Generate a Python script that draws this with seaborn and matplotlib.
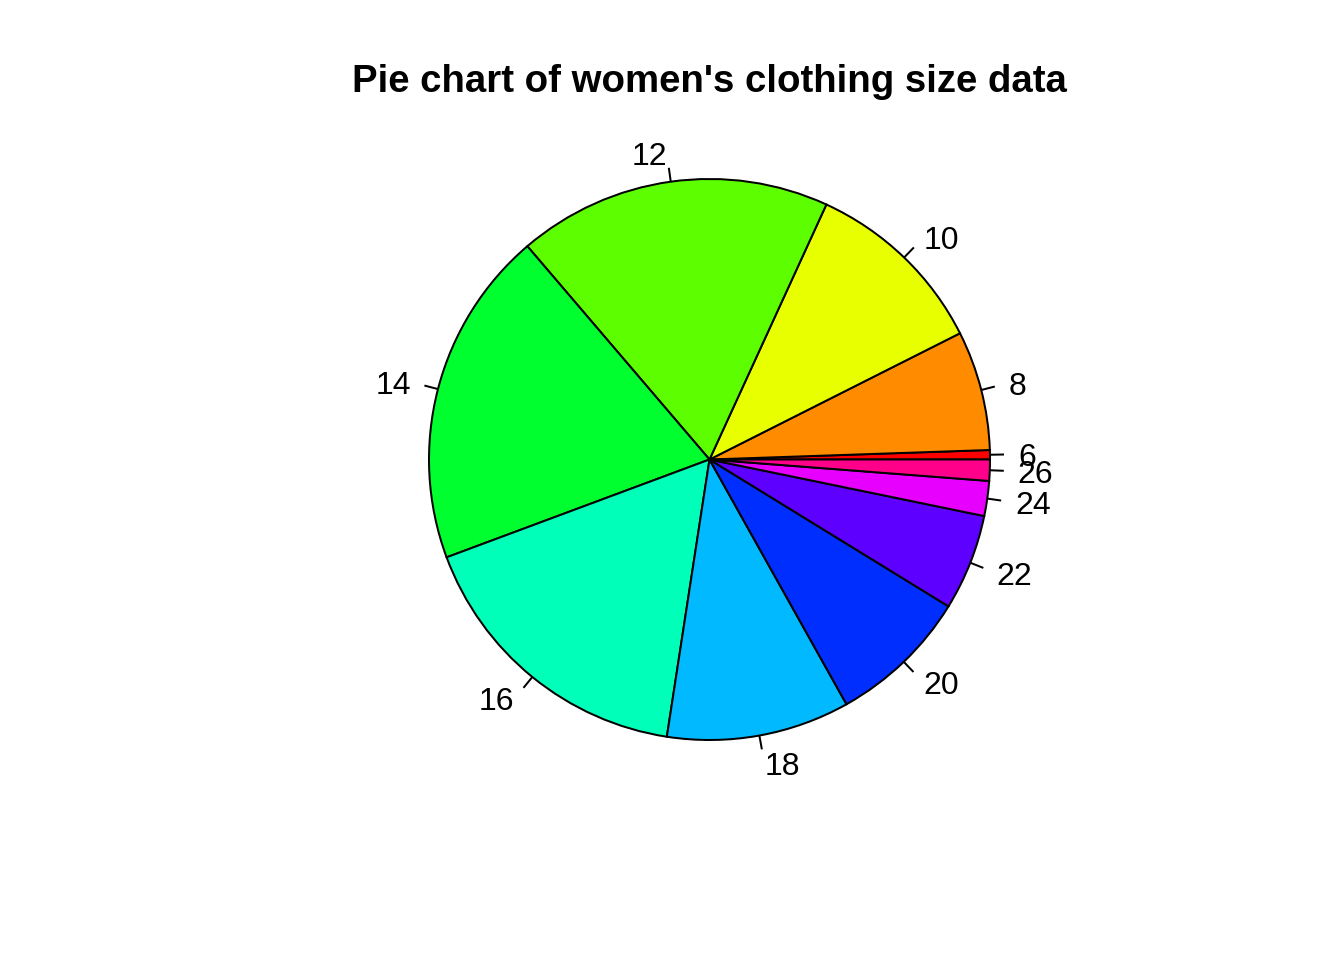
import numpy as np
import matplotlib
matplotlib.use("Agg")
import matplotlib.pyplot as plt
import seaborn as sns

sizes = ["6", "8", "10", "12", "14", "16", "18", "20", "22", "24", "26"]
shares = [0.54, 6.89, 10.73, 18.09, 19.42, 16.90, 10.55, 8.11, 5.54, 2.01, 1.22]
colors = ["#FF0000", "#FF8B00", "#E8FF00", "#5DFF00", "#00FF2E", "#00FFB9",
          "#00B9FF", "#002EFF", "#5D00FF", "#E800FF", "#FF008B"]
title = "Pie chart of women's clothing size data"

sns.set_theme(style="white")
plt.rcParams['font.family'] = ['Liberation Sans', 'DejaVu Sans']
plt.rcParams['text.color'] = 'black'

W, H, DPI = 1344, 960, 192
fig = plt.figure(figsize=(W / DPI, H / DPI), dpi=DPI)
ax = fig.add_axes([0, 0, 1, 1])
cx, cy, r = 709.5, 500.5, 280.5  # pixel centre (from bottom) and radius

wedges, texts = ax.pie(shares, colors=colors, startangle=0, counterclock=True,
                       labels=sizes, labeldistance=1.1, radius=1.0,
                       wedgeprops=dict(edgecolor="black", linewidth=0.75),
                       textprops=dict(fontsize=12, color="black"),
                       normalize=True)
for t in texts:
    t.set_va("center_baseline")
ax.set_xlim(-cx / r, (W - cx) / r)
ax.set_ylim(-cy / r, (H - cy) / r)
ax.set_aspect('auto')
ax.set_axis_off()

# tick lines from the rim to 1.05 radius at mid angles
cum = np.cumsum([0] + shares) / sum(shares) * 2 * np.pi
for a0, a1 in zip(cum[:-1], cum[1:]):
    m = (a0 + a1) / 2
    ax.plot([np.cos(m), 1.05 * np.cos(m)], [np.sin(m), 1.05 * np.sin(m)],
            color="black", linewidth=0.75, solid_capstyle="butt")

fig.text(709 / W, 1 - 82 / H, title, ha="center", va="center",
         fontsize=14.4, fontweight="bold", color="black")

fig.savefig("out.png", dpi=DPI, facecolor="white")
